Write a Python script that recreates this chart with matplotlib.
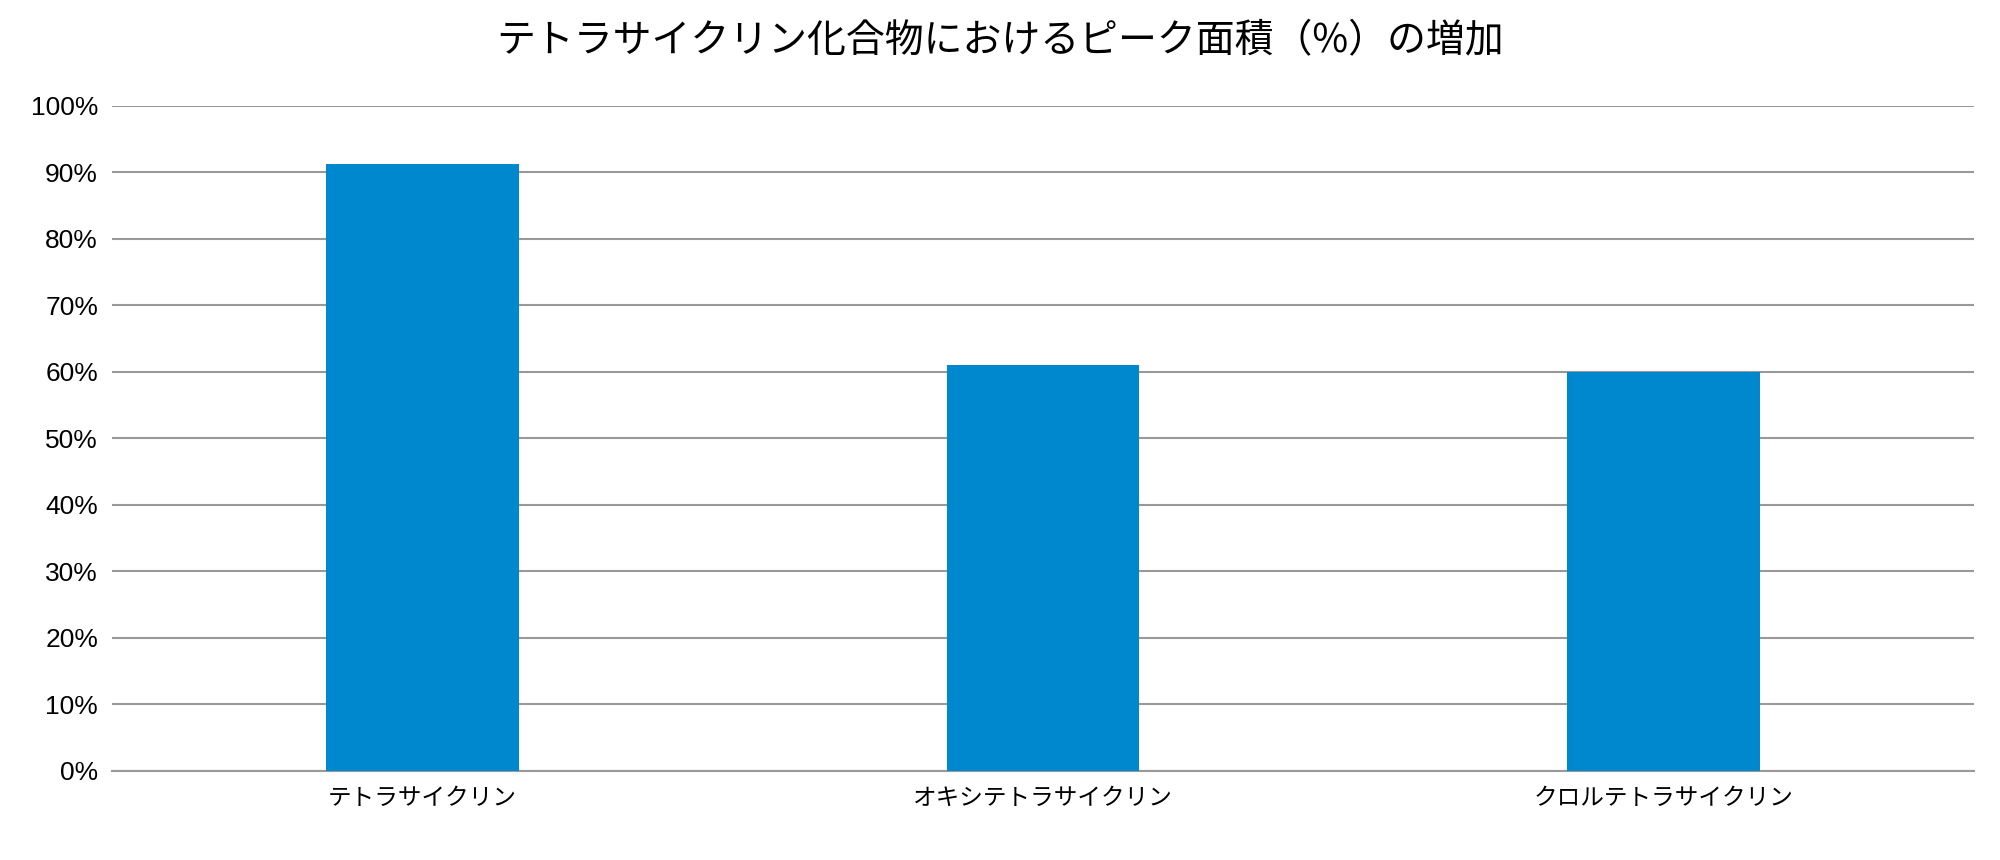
import matplotlib.pyplot as plt

plt.rcParams['font.family'] = ['Noto Sans CJK JP', 'DejaVu Sans']

categories = ["テトラサイクリン", "オキシテトラサイクリン", "クロルテトラサイクリン"]
values = [91.2, 61.0, 60.0]
yticks = list(range(0, 101, 10))

fig = plt.figure(figsize=(20, 8.6), dpi=100)
ax = fig.add_axes([0.056, 0.104, 0.931, 0.773])

x = range(len(categories))
ax.bar(x, values, width=0.31, color="#0088CE", zorder=3)

ax.set_xlim(-0.5, len(categories) - 0.5)
ax.set_ylim(0, 100)
ax.set_yticks(yticks)
ax.set_yticklabels([f"{t}%" for t in yticks], fontsize=19, family=['Liberation Sans', 'DejaVu Sans'])
ax.set_xticks(list(x))
ax.set_xticklabels(categories, fontsize=17)
ax.tick_params(length=0, pad=12)
ax.tick_params(axis='y', pad=10)
ax.grid(axis='y', color="#999999", linewidth=1.5, zorder=0)
for s in ["top", "right", "left"]:
    ax.spines[s].set_visible(False)
ax.spines["bottom"].set_color("#999999")
ax.spines["bottom"].set_linewidth(1.5)

fig.suptitle("テトラサイクリン化合物におけるピーク面積（%）の増加", fontsize=28, y=0.975)

fig.savefig("out.png")
